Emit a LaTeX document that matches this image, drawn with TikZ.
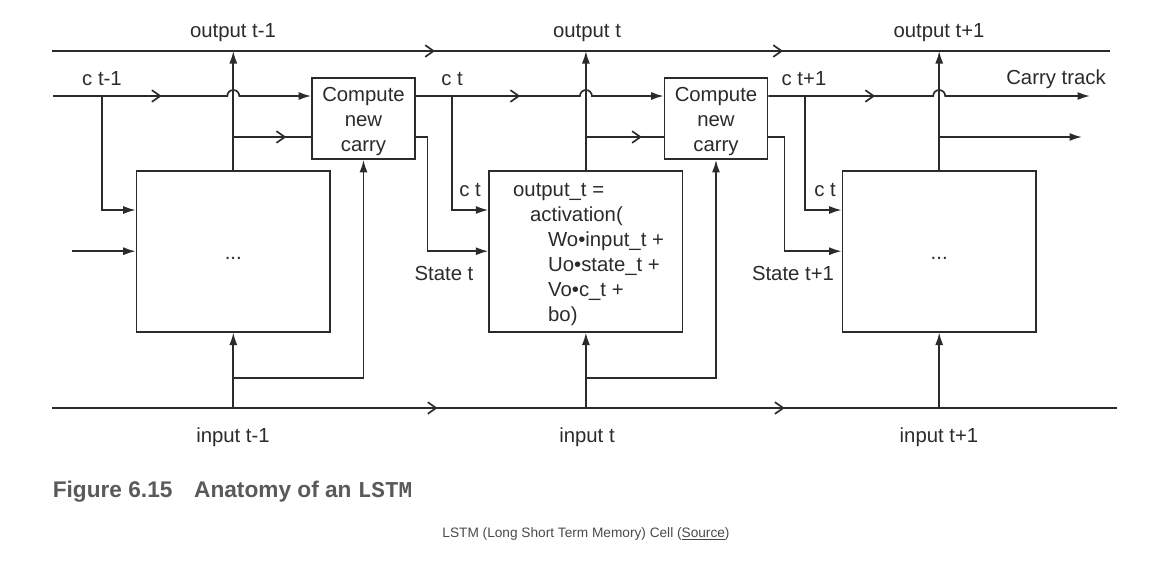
\documentclass[tikz,border=0pt]{standalone}
\usepackage{fontspec}
\setmainfont{Liberation Sans}
\newfontfamily\monobold{Liberation Mono}
\usetikzlibrary{arrows.meta,positioning,decorations.markings}
\definecolor{ink}{HTML}{2B2B2B}
\definecolor{capgray}{HTML}{5A5A5A}
\definecolor{srcgray}{HTML}{4A4A4A}

\begin{document}
\begin{tikzpicture}[x=0.6pt,y=0.6pt,>={Latex[length=7.5pt,width=4.8pt]},
  line width=1pt, draw=ink, text=ink, font=\fontsize{12.2}{15}\selectfont,
  chev/.style={postaction={decorate,decoration={markings,
    mark=at position #1 with {\arrow{Straight Barb[length=5pt,width=7pt]}}}}}]
\tikzstyle{cell}=[draw, minimum width=116.1pt, minimum height=96.6pt, inner sep=0pt]
\tikzstyle{carrybox}=[draw, minimum width=61.8pt, minimum height=48.6pt, inner sep=0pt, align=center]
\tikzstyle{lbl}=[inner sep=0pt]

\fill[white] (0,0) rectangle (1149,-561);
\useasboundingbox (0,0) rectangle (1149,-561);

% cells and carry boxes
\node[cell] (cell1) at (233.3,-251.2) {\rule{0pt}{10pt}...};
\node[cell] (cell2) at (585.9,-251.2) {};
\node[cell] (cell3) at (939.2,-251.2) {\rule{0pt}{10pt}...};
\node[carrybox] (comp1) at (363.5,-118.5) {\rule{0pt}{12.4pt}Compute\\new\\carry};
\node[carrybox] (comp2) at (716,-118.5) {\rule{0pt}{12.4pt}Compute\\new\\carry};
\node[anchor=north west, align=left, inner sep=0pt] (formula) at ([xshift=14.4pt,yshift=-7.8pt]cell2.north west)
  {output\_t =\\\hspace*{10.2pt}activation(\\\hspace*{21pt}Wo•input\_t +\\\hspace*{21pt}Uo•state\_t +\\\hspace*{21pt}Vo•c\_t +\\\hspace*{21pt}bo)};

% levels and free ends
\coordinate (otL) at (52,-51);  \coordinate (otR) at (1110,-51);
\coordinate (itL) at (52,-408); \coordinate (itR) at (1117,-408);
\coordinate (ctL) at (53,-96);  \coordinate (ctR) at (1090,-96);
\coordinate (hb) at (0,-137);
\coordinate (ctin) at (0,-210);
\coordinate (lb) at (0,-378);
\coordinate (sin) at (72,-251.2);
\coordinate (hout) at (1082,-137);
\coordinate (tap1) at (102,-96);
\coordinate (tap2) at (452,-96);
\coordinate (tap3) at (805,-96);
\coordinate (j1) at (cell1.north |- ctL);
\coordinate (j2) at (cell2.north |- ctL);
\coordinate (j3) at (cell3.north |- ctL);

% tracks
\draw[chev=0.362, chev=0.691] (otL) -- (otR);
\draw[chev=0.362, chev=0.688] (itL) -- (itR);
\draw[->, chev=0.41] (ctL) -- ([xshift=-3.6pt]j1) arc[start angle=180, end angle=0, radius=3.6pt] -- (comp1.west |- ctL);
\draw[->, chev=0.41] (comp1.east |- ctL) -- ([xshift=-3.6pt]j2) arc[start angle=180, end angle=0, radius=3.6pt] -- (comp2.west |- ctL);
\draw[->, chev=0.325] (comp2.east |- ctL) -- ([xshift=-3.6pt]j3) arc[start angle=180, end angle=0, radius=3.6pt] -- (ctR);

% outputs
\draw[->] (cell1.north) -- (cell1.north |- otL);
\draw[->] (cell2.north) -- (cell2.north |- otL);
\draw[->] (cell3.north) -- (cell3.north |- otL);
\draw[chev=0.68] (cell1.north |- hb) -- (comp1.west |- hb);
\draw[chev=0.72] (cell2.north |- hb) -- (comp2.west |- hb);
\draw[->] (cell3.north |- hb) -- (hout);

% state and carry into the cells
\draw[->] (sin) -- (cell1.west);
\draw[->] (tap1) |- (cell1.west |- ctin);
\draw[->] (tap2) |- (cell2.west |- ctin);
\draw[->] (tap3) |- (cell3.west |- ctin);
\draw[->] (comp1.east |- hb) -- ++(7pt,0) |- (cell2.west);
\draw[->] (comp2.east |- hb) -- ++(9.6pt,0) |- (cell3.west);

% inputs
\draw[->] (cell1.south |- itL) -- (cell1.south);
\draw[->] (cell2.south |- itL) -- (cell2.south);
\draw[->] (cell3.south |- itL) -- (cell3.south);
\draw[->] (cell1.south |- lb) -| (comp1.south);
\draw[->] (cell2.south |- lb) -| (comp2.south);

% labels
\node[lbl] (lout1) at (233,-33) {output t-1};
\node[lbl] (lout2) at (587,-33) {output t};
\node[lbl] (lout3) at (939,-33) {output t+1};
\node[lbl] (lin1) at (233,-437) {input t-1};
\node[lbl] (lin2) at (587,-437) {input t};
\node[lbl] (lin3) at (939,-437) {input t+1};
\node[lbl] (lc0) at (102,-79) {c t-1};
\node[lbl] (lc1) at (452,-79) {c t};
\node[lbl] (lc2) at (804,-79) {c t+1};
\node[lbl] (ltrack) at (1056,-79) {Carry track};
\node[lbl] (lcin2) at (470,-190) {c t};
\node[lbl] (lcin3) at (825,-190) {c t};
\node[lbl] (lst2) at (444,-273) {State t};
\node[lbl] (lst3) at (793,-273) {State t+1};

% caption
\node[anchor=west, inner sep=0pt, text=capgray, font=\fontsize{13.6}{16}\selectfont\bfseries] (fig) at (52,-492)
  {Figure 6.15\hspace{13pt}Anatomy of an {\monobold\bfseries LSTM}};
\node[inner sep=0pt, text=srcgray, font=\fontsize{8.2}{10}\selectfont] (src) at (586,-534)
  {LSTM (Long Short Term Memory) Cell (\underline{Source})};
\end{tikzpicture}
\end{document}
